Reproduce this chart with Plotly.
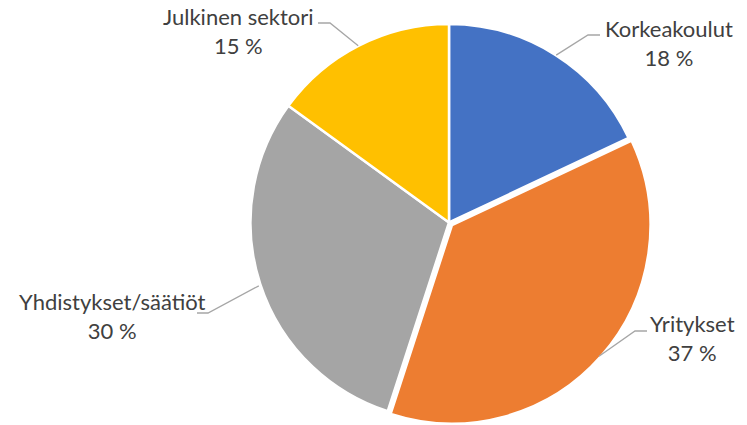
import math
import plotly.graph_objects as go

# ---- data ----
categories = ["Korkeakoulut", "Yritykset", "Yhdistykset/säätiöt", "Julkinen sektori"]
values = [18, 37, 30, 15]
colors = ["#4472C4", "#ED7D31", "#A5A5A5", "#FFC000"]
pulls = [0, 0.02, 0, 0]

# ---- layout constants (page pixels) ----
W, H = 747, 425
OFF = 0                              # body margin removed via post_script
CX, CY, R = 449, 224, 200            # pie centre / radius
label_pos = [(669, 43), (692, 338), (112, 316), (238, 31)]
elbow_pos = [(588, 35), (635, 331), (208, 313), (330, 23)]
tail_pos = [(600, 35), (647, 331), (197, 313), (318, 23)]


def px(x):
    return (x - OFF) / W


def py(y):
    return 1 - (y - OFF) / H


maxpull = max(pulls)
D = 2 * R * (1 + maxpull)
fig = go.Figure(go.Pie(
    labels=categories, values=values, sort=False, direction="clockwise",
    rotation=0, pull=pulls,
    marker=dict(colors=colors, line=dict(color="white", width=2.5)),
    textinfo="none", hoverinfo="label+percent", showlegend=False,
    domain=dict(x=[px(CX - D / 2), px(CX + D / 2)],
                y=[max(0, py(CY + D / 2)), min(1, py(CY - D / 2))]),
))

total = sum(values)
cum = 0
shapes = []
annotations = []
for i, (cat, v) in enumerate(zip(categories, values)):
    mid = (cum + v / 2) / total * 2 * math.pi
    cum += v
    ex = CX + R * math.sin(mid)
    ey = CY - R * math.cos(mid)
    (bx, by), (tx, ty) = elbow_pos[i], tail_pos[i]
    shapes.append(dict(type="path", xref="paper", yref="paper",
                       path=f"M {px(ex)} {py(ey)} L {px(bx)} {py(by)} L {px(tx)} {py(ty)}",
                       line=dict(color="#A6A6A6", width=1.3)))
    lx, ly = label_pos[i]
    annotations.append(dict(xref="paper", yref="paper", x=px(lx), y=py(ly),
                            xanchor="center", yanchor="middle", showarrow=False,
                            align="center", text=f"{cat}<br>{v} %",
                            font=dict(family="Lato", size=22, color="#404040")))

fig.update_layout(width=W, height=H, margin=dict(l=0, r=0, t=0, b=0),
                  paper_bgcolor="white", plot_bgcolor="white",
                  shapes=shapes, annotations=annotations)
fig.write_html("out.html", config={"displayModeBar": False},
               post_script="document.body.style.margin='0';")
